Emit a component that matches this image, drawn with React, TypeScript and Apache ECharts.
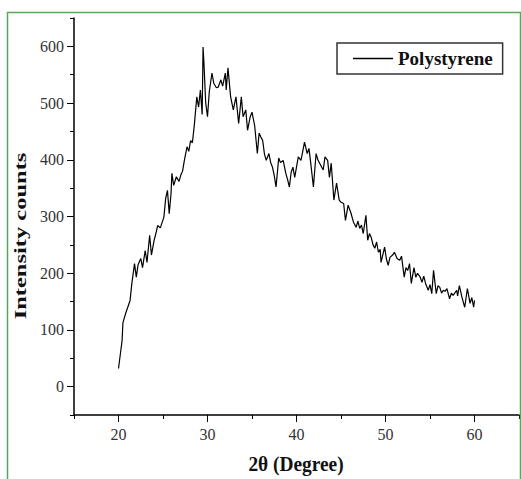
import React, { useEffect, useRef } from "react";
import * as echarts from "echarts";

const twoTheta = [
  20.0, 20.4, 20.5, 20.8, 21.3, 21.5, 21.8, 22.0, 22.2, 22.5, 22.7, 23.0, 23.2, 23.5, 23.7, 24.0, 24.2, 24.4, 24.7,
  25.1, 25.3, 25.5, 25.7, 25.9, 26.0, 26.2, 26.5, 26.8, 27.0, 27.2, 27.4, 27.7, 27.9, 28.1, 28.3, 28.5, 28.8, 29.0,
  29.2, 29.4, 29.5, 29.6, 29.8, 30.0, 30.2, 30.5, 30.7, 31.0, 31.2, 31.5, 31.7, 32.0, 32.1, 32.3, 32.6, 32.9, 33.2,
  33.5, 33.8, 34.0, 34.3, 34.5, 34.8, 35.0, 35.3, 35.6, 35.8, 36.0, 36.2, 36.4, 36.6, 36.9, 37.1, 37.3, 37.5, 37.7,
  38.0, 38.2, 38.5, 38.8, 39.0, 39.2, 39.4, 39.6, 39.8, 40.2, 40.5, 40.7, 40.9, 41.2, 41.4, 41.6, 41.9, 42.2, 42.4,
  42.6, 43.0, 43.2, 43.5, 43.7, 43.9, 44.2, 44.5, 44.8, 45.0, 45.3, 45.5, 45.8, 46.1, 46.4, 46.7, 46.9, 47.1, 47.3,
  47.5, 47.8, 48.0, 48.2, 48.4, 48.6, 48.8, 49.0, 49.2, 49.4, 49.5, 49.9, 50.1, 50.3, 50.5, 50.8, 51.0, 51.3, 51.6,
  51.8, 52.1, 52.3, 52.5, 52.7, 52.9, 53.2, 53.4, 53.6, 53.9, 54.1, 54.3, 54.5, 54.8, 55.0, 55.2, 55.4, 55.7, 55.9,
  56.1, 56.3, 56.5, 56.7, 56.9, 57.2, 57.4, 57.6, 58.0, 58.1, 58.3, 58.6, 58.9, 59.2, 59.5, 59.7, 59.9, 60.0,
];

const intensity = [
  32, 81, 113, 129, 152, 182, 217, 193, 215, 226, 210, 240, 219, 267, 232, 258, 270, 284, 280,
  299, 332, 346, 305, 340, 376, 355, 370, 362, 373, 380, 399, 423, 415, 434, 430, 458, 511, 493,
  523, 480, 599, 570, 500, 476, 520, 553, 535, 527, 528, 541, 530, 553, 523, 562, 511, 488, 511,
  464, 511, 476, 488, 452, 476, 484, 460, 411, 447, 440, 434, 410, 399, 411, 395, 387, 372, 352,
  403, 395, 399, 376, 365, 352, 378, 387, 369, 405, 399, 415, 431, 411, 420, 394, 352, 411, 400,
  394, 382, 405, 399, 369, 394, 329, 359, 329, 325, 323, 293, 320, 307, 290, 281, 292, 279, 285,
  270, 302, 258, 270, 263, 250, 244, 255, 237, 242, 219, 246, 225, 214, 228, 232, 237, 226, 223,
  230, 193, 210, 205, 217, 182, 210, 193, 200, 193, 184, 195, 182, 170, 180, 164, 205, 164, 178,
  175, 165, 170, 168, 173, 155, 165, 161, 170, 160, 178, 157, 140, 173, 147, 157, 140, 152,
];

const xTickLabels = [20, 30, 40, 50, 60];
const yTickLabels = [0, 100, 200, 300, 400, 500, 600];
const seriesName = "Polystyrene";
const xTitle = "2θ (Degree)";
const yTitle = "Intensity counts";

export default function App() {
  const ref = useRef<HTMLDivElement>(null);

  useEffect(() => {
    if (!ref.current) return;
    const chart = echarts.init(ref.current, null, { renderer: "svg" });
    const data = twoTheta.map((x, i) => [x, intensity[i]]);
    const serif = "'Liberation Serif', 'Times New Roman', serif";
    const labelStyle = { fontFamily: serif, fontSize: 16, color: "#333" };
    const axisLine = { show: true, onZero: false, lineStyle: { color: "#000", width: 1.5 } };

    chart.setOption({
      animation: false,
      backgroundColor: "#fff",
      grid: { left: 74, top: 18, width: 445, height: 397, containLabel: false },
      xAxis: [
        {
          type: "value",
          min: 15,
          max: 65,
          interval: 5,
          position: "bottom",
          axisLine,
          axisTick: { show: true, length: 4, lineStyle: { color: "#000", width: 1 } },
          axisLabel: { show: false },
          splitLine: { show: false },
        },
        {
          type: "value",
          min: 15,
          max: 65,
          position: "bottom",
          axisLine: { show: false, onZero: false },
          axisTick: { show: true, length: 7, customValues: xTickLabels, lineStyle: { color: "#000", width: 1 } },
          axisLabel: { show: true, customValues: xTickLabels, margin: 11, ...labelStyle },
          splitLine: { show: false },
        },
      ],
      yAxis: [
        {
          type: "value",
          min: -50,
          max: 650,
          interval: 50,
          position: "left",
          axisLine,
          axisTick: { show: true, length: 4, lineStyle: { color: "#000", width: 1 } },
          axisLabel: { show: false },
          splitLine: { show: false },
        },
        {
          type: "value",
          min: -50,
          max: 650,
          position: "left",
          axisLine: { show: false, onZero: false },
          axisTick: { show: true, length: 7, customValues: yTickLabels, lineStyle: { color: "#000", width: 1 } },
          axisLabel: { show: true, customValues: yTickLabels, margin: 10, ...labelStyle },
          splitLine: { show: false },
        },
      ],
      legend: {
        data: [{ name: seriesName, icon: "rect" }],
        left: 337,
        top: 43,
        padding: [6, 10, 6, 16],
        borderColor: "#333",
        borderWidth: 1.5,
        borderRadius: 0,
        itemWidth: 40,
        itemHeight: 1.5,
        textStyle: { fontFamily: serif, fontSize: 19, fontWeight: "bold", color: "#111" },
      },
      series: [
        {
          name: seriesName,
          type: "line",
          xAxisIndex: 0,
          yAxisIndex: 0,
          data,
          symbol: "none",
          lineStyle: { color: "#000", width: 1.2 },
          itemStyle: { color: "#000" },
        },
      ],
      graphic: [
        {
          type: "rect",
          shape: { x: 7.5, y: 12.5, width: 513, height: 480 },
          style: { fill: "none", stroke: "#5aa65a", lineWidth: 1.5 },
          silent: true,
          z: 100,
        },
        {
          type: "text",
          x: 20,
          y: 236,
          rotation: Math.PI / 2,
          scaleY: 0.68,
          style: {
            text: yTitle,
            fontFamily: serif,
            fontSize: 24.5,
            fontWeight: "bold",
            fill: "#111",
            align: "center",
            verticalAlign: "middle",
          },
        },
        {
          type: "text",
          x: 296,
          y: 464,
          scaleX: 0.88,
          style: {
            text: xTitle,
            fontFamily: serif,
            fontSize: 22,
            fontWeight: "bold",
            fill: "#111",
            align: "center",
            verticalAlign: "middle",
          },
        },
      ],
    });

    return () => chart.dispose();
  }, []);

  return (
    <div
      ref={ref}
      style={{ position: "absolute", left: 0, top: 0, width: 521, height: 479 }}
    />
  );
}
